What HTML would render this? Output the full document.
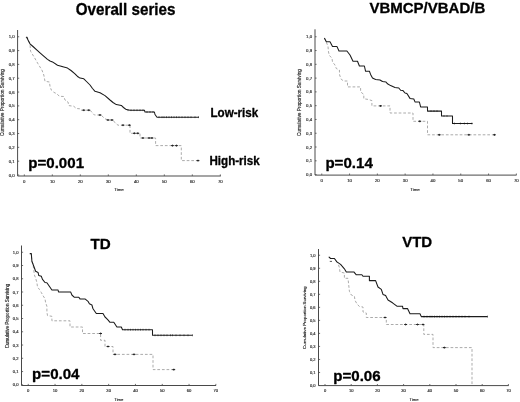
<!DOCTYPE html>
<html lang="en">
<head>
<meta charset="utf-8">
<title>Survival curves</title>
<style>
html,body{margin:0;padding:0;background:#fff;}
body{width:520px;height:402px;overflow:hidden;}
svg{display:block;font-family:"Liberation Sans",Arial,Helvetica,sans-serif;}
</style>
</head>
<body>
<svg width="520" height="402" viewBox="0 0 520 402">
<defs><filter id="b" x="-5%" y="-5%" width="110%" height="110%"><feGaussianBlur stdDeviation="0.3"/></filter></defs>
<rect width="520" height="402" fill="#fff"/>
<g filter="url(#b)">
<path d="M17.6,30 V176.0 H220.8" fill="none" stroke="#4a4a4a" stroke-width="1"/>
<path d="M17.60,175.00h1.6M17.60,161.18h1.6M17.60,147.35h1.6M17.60,133.53h1.6M17.60,119.70h1.6M17.60,105.88h1.6M17.60,92.05h1.6M17.60,78.22h1.6M17.60,64.40h1.6M17.60,50.58h1.6M17.60,36.75h1.6M24.30,176.00v-1.6M52.30,176.00v-1.6M80.30,176.00v-1.6M108.30,176.00v-1.6M136.30,176.00v-1.6M164.30,176.00v-1.6M192.30,176.00v-1.6M220.30,176.00v-1.6" fill="none" stroke="#4a4a4a" stroke-width="0.8"/>
<path d="M26.00,37.20 L28.00,40.00 L30.00,44.00 L30.60,51.30 L34.40,57.50 L38.00,63.80 L41.90,70.00 L43.80,75.00 L45.00,81.30 L49.40,82.00 L50.00,86.30 L51.30,90.00 L53.80,92.30 L56.90,93.80 L59.40,96.30 L63.80,96.50 L65.00,100.00 L68.00,102.00 L68.80,105.60 L73.80,106.30 L76.30,108.50 L80.00,108.80 L81.00,110.20 L90.00,110.20 L94.40,115.00 L101.00,115.00 L105.00,118.80 L108.00,120.00 L113.00,120.00 L115.00,122.80 L118.00,125.20 L130.00,125.20 L130.00,133.30 L140.00,133.30 L140.00,138.00 L155.60,138.00 L155.60,145.60 L181.30,145.60 L181.30,160.60 L198.00,160.60" fill="none" stroke="#a2a2a2" stroke-width="0.9" stroke-dasharray="2.7 1.9"/>
<path d="M26.00,37.20 L27.00,37.30 L28.00,40.00 L30.00,43.80 L33.00,46.50 L37.50,50.60 L42.00,54.60 L47.50,59.40 L50.00,61.00 L52.50,61.90 L57.50,65.30 L62.00,66.50 L67.50,68.10 L71.00,70.50 L75.00,73.80 L78.00,76.80 L80.00,78.10 L83.80,78.80 L87.00,82.00 L90.00,85.00 L92.50,88.50 L95.00,91.30 L100.00,92.80 L105.00,95.60 L110.00,100.00 L113.00,102.50 L116.30,104.60 L121.30,105.40 L123.50,107.50 L126.30,109.60 L130.00,110.20 L144.40,110.20 L145.00,112.00 L154.40,112.00 L155.00,114.50 L157.00,117.20 L198.80,117.20" fill="none" stroke="#1a1a1a" stroke-width="1.05" stroke-linejoin="round"/>
<path d="M128.00,109.30v1.8M131.00,109.30v1.8M134.00,109.30v1.8M137.00,109.30v1.8M140.00,109.30v1.8M143.00,109.30v1.8M147.00,111.10v1.8M150.00,111.10v1.8M153.00,111.10v1.8M159.00,116.30v1.8M162.00,116.30v1.8M164.00,116.30v1.8M166.50,116.30v1.8M169.00,116.30v1.8M171.50,116.30v1.8M174.00,116.30v1.8M176.50,116.30v1.8M179.00,116.30v1.8M182.00,116.30v1.8M185.00,116.30v1.8M188.00,116.30v1.8M191.00,116.30v1.8M195.00,116.30v1.8M198.50,116.30v1.8" fill="none" stroke="#1a1a1a" stroke-width="0.6"/>
<path d="M82.40,110.20h2.8M83.80,109.30v1.8M87.40,110.20h2.8M88.80,109.30v1.8M98.60,115.00h2.8M100.00,114.10v1.8M106.60,120.00h2.8M108.00,119.10v1.8M110.60,120.00h2.8M112.00,119.10v1.8M121.60,125.20h2.8M123.00,124.30v1.8M128.00,125.20h2.8M129.40,124.30v1.8M133.00,133.30h2.8M134.40,132.40v1.8M136.40,133.30h2.8M137.80,132.40v1.8M141.60,138.00h2.8M143.00,137.10v1.8M147.60,138.00h2.8M149.00,137.10v1.8M150.60,138.00h2.8M152.00,137.10v1.8M171.10,145.60h2.8M172.50,144.70v1.8M175.10,145.60h2.8M176.50,144.70v1.8M196.60,160.60h2.8M198.00,159.70v1.8" fill="none" stroke="#222" stroke-width="1"/>
<g font-size="4.30" fill="#333" stroke="#333" stroke-width="0.18" text-anchor="end">
<text x="14.70" y="176.50">0,0</text>
<text x="14.70" y="162.68">0,1</text>
<text x="14.70" y="148.85">0,2</text>
<text x="14.70" y="135.03">0,3</text>
<text x="14.70" y="121.20">0,4</text>
<text x="14.70" y="107.38">0,5</text>
<text x="14.70" y="93.55">0,6</text>
<text x="14.70" y="79.72">0,7</text>
<text x="14.70" y="65.90">0,8</text>
<text x="14.70" y="52.08">0,9</text>
<text x="14.70" y="38.25">1,0</text>
</g>
<g font-size="4.30" fill="#333" stroke="#333" stroke-width="0.18" text-anchor="middle">
<text x="24.30" y="182.70">0</text>
<text x="52.30" y="182.70">10</text>
<text x="80.30" y="182.70">20</text>
<text x="108.30" y="182.70">30</text>
<text x="136.30" y="182.70">40</text>
<text x="164.30" y="182.70">50</text>
<text x="192.30" y="182.70">60</text>
<text x="220.30" y="182.70">70</text>
<text x="119" y="191.3">Time</text>
<text font-size="4.70" transform="translate(4.3,102.5) rotate(-90)">Cumulative Proportion Surviving</text>
</g>
</g>
<text transform="translate(125.6,14.9) scale(1,1.07)" font-size="15.2" font-weight="bold" text-anchor="middle" fill="#000" stroke="#000" stroke-width="0.3" stroke-linejoin="round">Overall series</text>
<text transform="translate(28.2,168.4) scale(1,1.02)" font-size="15.1" font-weight="bold" fill="#000" stroke="#000" stroke-width="0.3" stroke-linejoin="round">p=0.001</text>
<text transform="translate(210.5,117.1) scale(1,1.03)" font-size="11.6" font-weight="bold" fill="#000" stroke="#000" stroke-width="0.3" stroke-linejoin="round">Low-risk</text>
<text transform="translate(209.5,164.7) scale(1,1.03)" font-size="11.6" font-weight="bold" fill="#000" stroke="#000" stroke-width="0.3" stroke-linejoin="round">High-risk</text>
<g filter="url(#b)">
<path d="M315,29.3 V175.1 H516.5" fill="none" stroke="#4a4a4a" stroke-width="1"/>
<path d="M315.00,174.60h1.6M315.00,160.81h1.6M315.00,147.03h1.6M315.00,133.25h1.6M315.00,119.46h1.6M315.00,105.67h1.6M315.00,91.89h1.6M315.00,78.11h1.6M315.00,64.32h1.6M315.00,50.54h1.6M315.00,36.75h1.6M321.75,175.10v-1.6M349.55,175.10v-1.6M377.35,175.10v-1.6M405.15,175.10v-1.6M432.95,175.10v-1.6M460.75,175.10v-1.6M488.55,175.10v-1.6M516.35,175.10v-1.6" fill="none" stroke="#4a4a4a" stroke-width="0.8"/>
<path d="M324.40,38.10 L326.00,41.50 L328.00,46.30 L328.50,52.00 L329.40,55.60 L332.00,58.00 L332.50,62.00 L335.00,65.00 L336.30,68.50 L339.40,70.00 L339.60,75.00 L341.30,79.40 L343.80,81.00 L347.50,81.00 L347.50,86.90 L360.60,86.90 L360.60,91.90 L363.80,94.40 L363.80,98.80 L368.00,99.40 L371.90,100.60 L371.90,105.90 L390.00,105.90 L390.00,113.00 L413.00,113.00 L413.00,121.30 L427.50,121.30 L427.50,134.80 L495.00,134.80" fill="none" stroke="#a2a2a2" stroke-width="0.9" stroke-dasharray="2.7 1.9"/>
<path d="M324.40,38.10 L326.30,41.70 L330.00,41.70 L332.50,46.40 L336.90,46.40 L339.00,51.00 L346.90,51.00 L350.00,55.00 L353.00,61.30 L357.50,61.30 L359.40,66.00 L364.40,66.00 L365.60,71.30 L369.40,71.30 L370.60,74.40 L372.50,78.00 L375.60,79.40 L380.00,80.00 L382.50,81.50 L386.00,82.00 L387.50,83.80 L390.60,85.60 L395.00,87.50 L398.80,88.00 L400.60,90.30 L403.00,90.60 L405.00,93.00 L406.90,93.50 L410.00,98.40 L413.80,99.00 L415.00,101.90 L419.40,102.00 L420.60,106.90 L427.50,106.90 L427.50,111.10 L441.50,111.10 L441.50,115.90 L452.50,115.90 L452.50,123.50 L472.50,123.50" fill="none" stroke="#1a1a1a" stroke-width="1.05" stroke-linejoin="round"/>
<path d="M431.00,110.20v1.8M434.00,110.20v1.8M437.00,110.20v1.8M444.00,115.00v1.8M447.00,115.00v1.8M454.40,122.60v1.8M460.40,122.60v1.8M464.40,122.60v1.8M467.50,122.60v1.8M471.90,122.60v1.8" fill="none" stroke="#1a1a1a" stroke-width="0.6"/>
<path d="M379.20,105.90h2.8M380.60,105.00v1.8M418.40,121.30h2.8M419.80,120.40v1.8M437.90,134.80h2.8M439.30,133.90v1.8M467.40,134.80h2.8M468.80,133.90v1.8M493.10,134.80h2.8M494.50,133.90v1.8" fill="none" stroke="#222" stroke-width="1"/>
<g font-size="4.30" fill="#333" stroke="#333" stroke-width="0.18" text-anchor="end">
<text x="312.10" y="176.10">0,0</text>
<text x="312.10" y="162.31">0,1</text>
<text x="312.10" y="148.53">0,2</text>
<text x="312.10" y="134.75">0,3</text>
<text x="312.10" y="120.96">0,4</text>
<text x="312.10" y="107.17">0,5</text>
<text x="312.10" y="93.39">0,6</text>
<text x="312.10" y="79.61">0,7</text>
<text x="312.10" y="65.82">0,8</text>
<text x="312.10" y="52.04">0,9</text>
<text x="312.10" y="38.25">1,0</text>
</g>
<g font-size="4.30" fill="#333" stroke="#333" stroke-width="0.18" text-anchor="middle">
<text x="321.75" y="181.60">0</text>
<text x="349.55" y="181.60">10</text>
<text x="377.35" y="181.60">20</text>
<text x="405.15" y="181.60">30</text>
<text x="432.95" y="181.60">40</text>
<text x="460.75" y="181.60">50</text>
<text x="488.55" y="181.60">60</text>
<text x="516.35" y="181.60">70</text>
<text x="415" y="190.8">Time</text>
<text font-size="4.70" transform="translate(301.2,102.5) rotate(-90)">Cumulative Proportion Surviving</text>
</g>
</g>
<text transform="translate(427.3,12.5) scale(1,1.0)" font-size="15.0" font-weight="bold" text-anchor="middle" fill="#000" stroke="#000" stroke-width="0.3" stroke-linejoin="round">VBMCP/VBAD/B</text>
<text transform="translate(325.4,168.2) scale(1,1.0)" font-size="15.1" font-weight="bold" fill="#000" stroke="#000" stroke-width="0.3" stroke-linejoin="round">p=0.14</text>
<g filter="url(#b)">
<path d="M21.5,245.5 V385.5 H216" fill="none" stroke="#4a4a4a" stroke-width="1"/>
<path d="M21.50,384.80h1.6M21.50,371.55h1.6M21.50,358.29h1.6M21.50,345.04h1.6M21.50,331.78h1.6M21.50,318.52h1.6M21.50,305.27h1.6M21.50,292.01h1.6M21.50,278.76h1.6M21.50,265.50h1.6M21.50,252.25h1.6M28.25,385.50v-1.6M55.05,385.50v-1.6M81.85,385.50v-1.6M108.65,385.50v-1.6M135.45,385.50v-1.6M162.25,385.50v-1.6M189.05,385.50v-1.6M215.85,385.50v-1.6" fill="none" stroke="#4a4a4a" stroke-width="0.8"/>
<path d="M29.80,253.60 L31.30,253.60 L31.90,261.30 L33.00,264.00 L34.40,275.00 L35.60,278.00 L36.90,282.50 L37.50,287.00 L39.40,289.40 L41.30,292.50 L43.00,295.60 L45.00,298.80 L45.60,302.50 L46.90,306.30 L46.90,312.00 L47.50,315.60 L51.90,316.30 L51.90,320.80 L70.00,320.80 L70.00,327.00 L82.50,327.00 L82.50,333.50 L100.60,333.50 L100.60,340.30 L105.00,340.30 L105.00,346.50 L113.00,346.50 L113.00,354.40 L153.00,354.40 L153.00,369.60 L173.80,369.60" fill="none" stroke="#a2a2a2" stroke-width="0.9" stroke-dasharray="2.7 1.9"/>
<path d="M29.80,253.60 L31.30,253.60 L31.90,261.30 L33.80,266.30 L35.60,271.30 L38.10,272.50 L38.80,275.60 L41.30,276.30 L42.50,279.40 L45.00,282.50 L46.90,282.70 L49.50,286.50 L51.90,290.00 L58.10,290.00 L58.50,291.90 L70.60,291.90 L71.90,295.00 L74.40,297.30 L78.80,297.30 L80.00,298.90 L85.00,298.90 L88.00,301.30 L89.40,303.80 L91.90,305.00 L93.00,308.80 L96.30,313.50 L103.00,313.50 L105.00,317.00 L107.50,319.40 L110.00,322.30 L113.80,322.30 L116.90,327.00 L121.30,327.00 L122.50,329.70 L152.50,329.70 L152.50,335.30 L192.50,335.30" fill="none" stroke="#1a1a1a" stroke-width="1.05" stroke-linejoin="round"/>
<path d="M125.00,328.80v1.8M128.00,328.80v1.8M130.50,328.80v1.8M133.00,328.80v1.8M135.50,328.80v1.8M138.00,328.80v1.8M140.50,328.80v1.8M143.00,328.80v1.8M146.00,328.80v1.8M149.00,328.80v1.8M155.00,334.40v1.8M158.00,334.40v1.8M161.00,334.40v1.8M164.00,334.40v1.8M167.00,334.40v1.8M170.50,334.40v1.8M172.50,334.40v1.8M176.00,334.40v1.8M180.00,334.40v1.8M184.00,334.40v1.8M188.00,334.40v1.8M192.50,334.40v1.8" fill="none" stroke="#1a1a1a" stroke-width="0.6"/>
<path d="M99.20,333.50h2.8M100.60,332.60v1.8M106.60,346.50h2.8M108.00,345.60v1.8M113.60,354.40h2.8M115.00,353.50v1.8M132.60,354.40h2.8M134.00,353.50v1.8M172.40,369.60h2.8M173.80,368.70v1.8" fill="none" stroke="#222" stroke-width="1"/>
<g font-size="4.13" fill="#333" stroke="#333" stroke-width="0.18" text-anchor="end">
<text x="18.60" y="386.30">0,0</text>
<text x="18.60" y="373.05">0,1</text>
<text x="18.60" y="359.79">0,2</text>
<text x="18.60" y="346.54">0,3</text>
<text x="18.60" y="333.28">0,4</text>
<text x="18.60" y="320.02">0,5</text>
<text x="18.60" y="306.77">0,6</text>
<text x="18.60" y="293.51">0,7</text>
<text x="18.60" y="280.26">0,8</text>
<text x="18.60" y="267.00">0,9</text>
<text x="18.60" y="253.75">1,0</text>
</g>
<g font-size="4.13" fill="#333" stroke="#333" stroke-width="0.18" text-anchor="middle">
<text x="28.25" y="391.60">0</text>
<text x="55.05" y="391.60">10</text>
<text x="81.85" y="391.60">20</text>
<text x="108.65" y="391.60">30</text>
<text x="135.45" y="391.60">40</text>
<text x="162.25" y="391.60">50</text>
<text x="189.05" y="391.60">60</text>
<text x="215.85" y="391.60">70</text>
<text x="118.8" y="400.8">Time</text>
<text font-size="4.51" transform="translate(9.2,316) rotate(-90)">Cumulative Proportion Surviving</text>
</g>
</g>
<text transform="translate(100.7,248.9) scale(1,1.0)" font-size="15.2" font-weight="bold" text-anchor="middle" fill="#000" stroke="#000" stroke-width="0.3" stroke-linejoin="round">TD</text>
<text transform="translate(32.1,378.8) scale(1,1.0)" font-size="15.1" font-weight="bold" fill="#000" stroke="#000" stroke-width="0.3" stroke-linejoin="round">p=0.04</text>
<g filter="url(#b)">
<path d="M318.5,249 V385.6 H508.7" fill="none" stroke="#4a4a4a" stroke-width="1"/>
<path d="M318.50,385.50h1.6M318.50,372.48h1.6M318.50,359.45h1.6M318.50,346.43h1.6M318.50,333.40h1.6M318.50,320.38h1.6M318.50,307.35h1.6M318.50,294.32h1.6M318.50,281.30h1.6M318.50,268.27h1.6M318.50,255.25h1.6M325.00,385.60v-1.6M351.20,385.60v-1.6M377.40,385.60v-1.6M403.60,385.60v-1.6M429.80,385.60v-1.6M456.00,385.60v-1.6M482.20,385.60v-1.6M508.40,385.60v-1.6" fill="none" stroke="#4a4a4a" stroke-width="0.8"/>
<path d="M328.80,256.90 L330.60,258.50 L334.40,258.50 L336.90,261.90 L338.00,263.50 L339.40,267.50 L340.00,272.00 L344.40,273.00 L344.40,278.30 L348.00,278.30 L348.50,283.00 L349.40,291.30 L351.30,295.00 L354.40,296.30 L355.00,300.30 L356.90,303.80 L359.40,306.50 L363.00,307.00 L363.00,312.00 L366.30,313.00 L366.30,317.50 L386.30,317.50 L386.30,324.50 L423.80,324.50 L423.80,334.40 L433.00,334.40 L433.00,347.60 L472.00,347.60 L472.00,385.50" fill="none" stroke="#a2a2a2" stroke-width="0.9" stroke-dasharray="2.7 1.9"/>
<path d="M328.80,256.90 L330.60,258.50 L334.40,258.50 L336.90,261.90 L340.60,264.40 L344.40,268.80 L346.30,271.90 L353.80,271.90 L356.30,274.80 L361.90,274.80 L363.00,276.30 L369.40,276.30 L369.40,280.60 L375.60,280.60 L378.00,287.00 L381.30,289.40 L383.00,294.40 L385.60,295.60 L388.00,300.00 L392.50,302.80 L396.90,306.20 L402.50,306.20 L403.00,308.60 L407.50,308.60 L410.00,313.80 L420.00,313.80 L421.30,316.60 L487.50,316.60" fill="none" stroke="#1a1a1a" stroke-width="1.05" stroke-linejoin="round"/>
<path d="M329.8,261.4h2.2" stroke="#444" stroke-width="0.9" fill="none"/>
<path d="M424.00,315.70v1.8M427.00,315.70v1.8M430.00,315.70v1.8M432.00,315.70v1.8M434.50,315.70v1.8M437.00,315.70v1.8M439.50,315.70v1.8M442.00,315.70v1.8M444.50,315.70v1.8M447.00,315.70v1.8M450.00,315.70v1.8M453.00,315.70v1.8M456.00,315.70v1.8M459.00,315.70v1.8M462.00,315.70v1.8M465.00,315.70v1.8M469.00,315.70v1.8M487.50,315.70v1.8" fill="none" stroke="#1a1a1a" stroke-width="0.6"/>
<path d="M383.60,317.50h2.8M385.00,316.60v1.8M404.20,324.50h2.8M405.60,323.60v1.8M416.10,324.50h2.8M417.50,323.60v1.8M421.60,324.50h2.8M423.00,323.60v1.8M443.00,347.60h2.8M444.40,346.70v1.8" fill="none" stroke="#222" stroke-width="1"/>
<g font-size="4.02" fill="#333" stroke="#333" stroke-width="0.18" text-anchor="end">
<text x="315.60" y="387.00">0,0</text>
<text x="315.60" y="373.98">0,1</text>
<text x="315.60" y="360.95">0,2</text>
<text x="315.60" y="347.93">0,3</text>
<text x="315.60" y="334.90">0,4</text>
<text x="315.60" y="321.88">0,5</text>
<text x="315.60" y="308.85">0,6</text>
<text x="315.60" y="295.82">0,7</text>
<text x="315.60" y="282.80">0,8</text>
<text x="315.60" y="269.77">0,9</text>
<text x="315.60" y="256.75">1,0</text>
</g>
<g font-size="4.02" fill="#333" stroke="#333" stroke-width="0.18" text-anchor="middle">
<text x="325.00" y="392.00">0</text>
<text x="351.20" y="392.00">10</text>
<text x="377.40" y="392.00">20</text>
<text x="403.60" y="392.00">30</text>
<text x="429.80" y="392.00">40</text>
<text x="456.00" y="392.00">50</text>
<text x="482.20" y="392.00">60</text>
<text x="508.40" y="392.00">70</text>
<text x="414" y="400.8">Time</text>
<text font-size="4.39" transform="translate(306,317.7) rotate(-90)">Cumulative Proportion Surviving</text>
</g>
</g>
<text transform="translate(417.2,247.3) scale(1,1.0)" font-size="15.0" font-weight="bold" text-anchor="middle" fill="#000" stroke="#000" stroke-width="0.3" stroke-linejoin="round">VTD</text>
<text transform="translate(333.2,380.8) scale(1,1.0)" font-size="15.1" font-weight="bold" fill="#000" stroke="#000" stroke-width="0.3" stroke-linejoin="round">p=0.06</text>
</svg>
</body>
</html>
